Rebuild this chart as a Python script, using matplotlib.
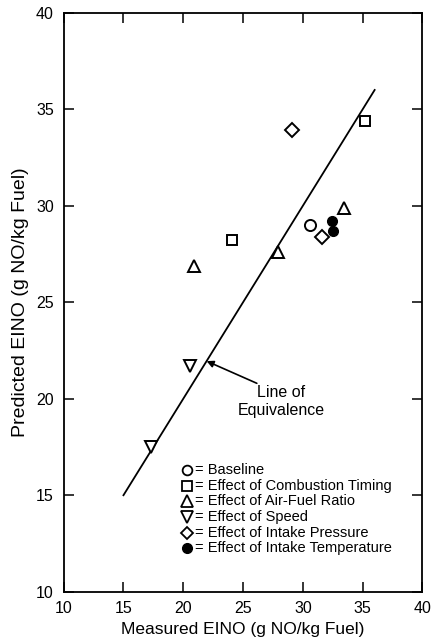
import matplotlib
matplotlib.use("Agg")
import matplotlib.pyplot as plt

plt.rcParams['font.family'] = ['Liberation Sans', 'DejaVu Sans']

# Data (measured, predicted EINO)
baseline_x = [30.6]
baseline_y = [29.0]
timing_x = [24.1, 35.2]
timing_y = [28.2, 34.4]
afr_x = [20.9, 27.9, 33.4]
afr_y = [26.9, 27.6, 29.9]
speed_x = [17.3, 20.6]
speed_y = [17.5, 21.7]
pressure_x = [29.1, 31.6]
pressure_y = [33.9, 28.4]
temp_x = [32.4, 32.5]
temp_y = [29.2, 28.7]
line_x = [15, 36]
ticks = [10, 15, 20, 25, 30, 35, 40]

legend_labels = ["Baseline", "Effect of Combustion Timing", "Effect of Air-Fuel Ratio",
                 "Effect of Speed", "Effect of Intake Pressure", "Effect of Intake Temperature"]
legend_markers = ['o', 's', '^', 'v', 'D', 'o']
legend_filled = [False, False, False, False, False, True]

fig = plt.figure(figsize=(4.36, 6.39), dpi=100)
ax = fig.add_axes([0.146, 0.074, 0.823, 0.906])

ax.plot(line_x, line_x, color='black', lw=1.3)

mew = 1.4
def op(x, y, m, s):
    ax.plot(x, y, linestyle='none', marker=m, ms=s, mfc='white', mec='black', mew=mew)

op(baseline_x, baseline_y, 'o', 8)
op(timing_x, timing_y, 's', 7.5)
op(afr_x, afr_y, '^', 9)
op(speed_x, speed_y, 'v', 9)
op(pressure_x, pressure_y, 'D', 7)
ax.plot(temp_x, temp_y, linestyle='none', marker='o', ms=7, mfc='black', mec='black')

ax.text(28.2, 19.85, "Line of\nEquivalence", ha='center', va='center',
        fontsize=11.5, linespacing=1.25)
ax.annotate("", xy=(21.95, 21.95), xytext=(26.15, 20.8),
            arrowprops=dict(arrowstyle='-|>', color='black', lw=1.2,
                            shrinkA=0, shrinkB=0, mutation_scale=10))

# In-plot legend
for i, (lab, m, f) in enumerate(zip(legend_labels, legend_markers, legend_filled)):
    yy = 16.3 - i * 0.81
    s = {'o': 7, 's': 7, '^': 8.5, 'v': 8.5, 'D': 6.5}[m]
    if f:
        ax.plot([20.3], [yy], marker='o', ms=7, mfc='black', mec='black', linestyle='none')
    else:
        ax.plot([20.3], [yy], marker=m, ms=s, mfc='white', mec='black', mew=1.3, linestyle='none')
    ax.text(20.95, yy, "= " + lab, fontsize=10.5, va='center', ha='left')

ax.set_xlim(10, 40)
ax.set_ylim(10, 40)
ax.set_xticks(ticks)
ax.set_yticks(ticks)
ax.tick_params(direction='in', length=7, width=1.1, top=True, right=True,
               labelsize=11.5)
ax.tick_params(axis='x', pad=7)
ax.tick_params(axis='y', pad=7)
for sp in ax.spines.values():
    sp.set_linewidth(1.3)
ax.set_xlabel("Measured EINO (g NO/kg Fuel)", fontsize=12.5, labelpad=4)
ax.set_ylabel("Predicted EINO (g NO/kg Fuel)", fontsize=14, labelpad=5)

fig.savefig("out.png", dpi=100)
